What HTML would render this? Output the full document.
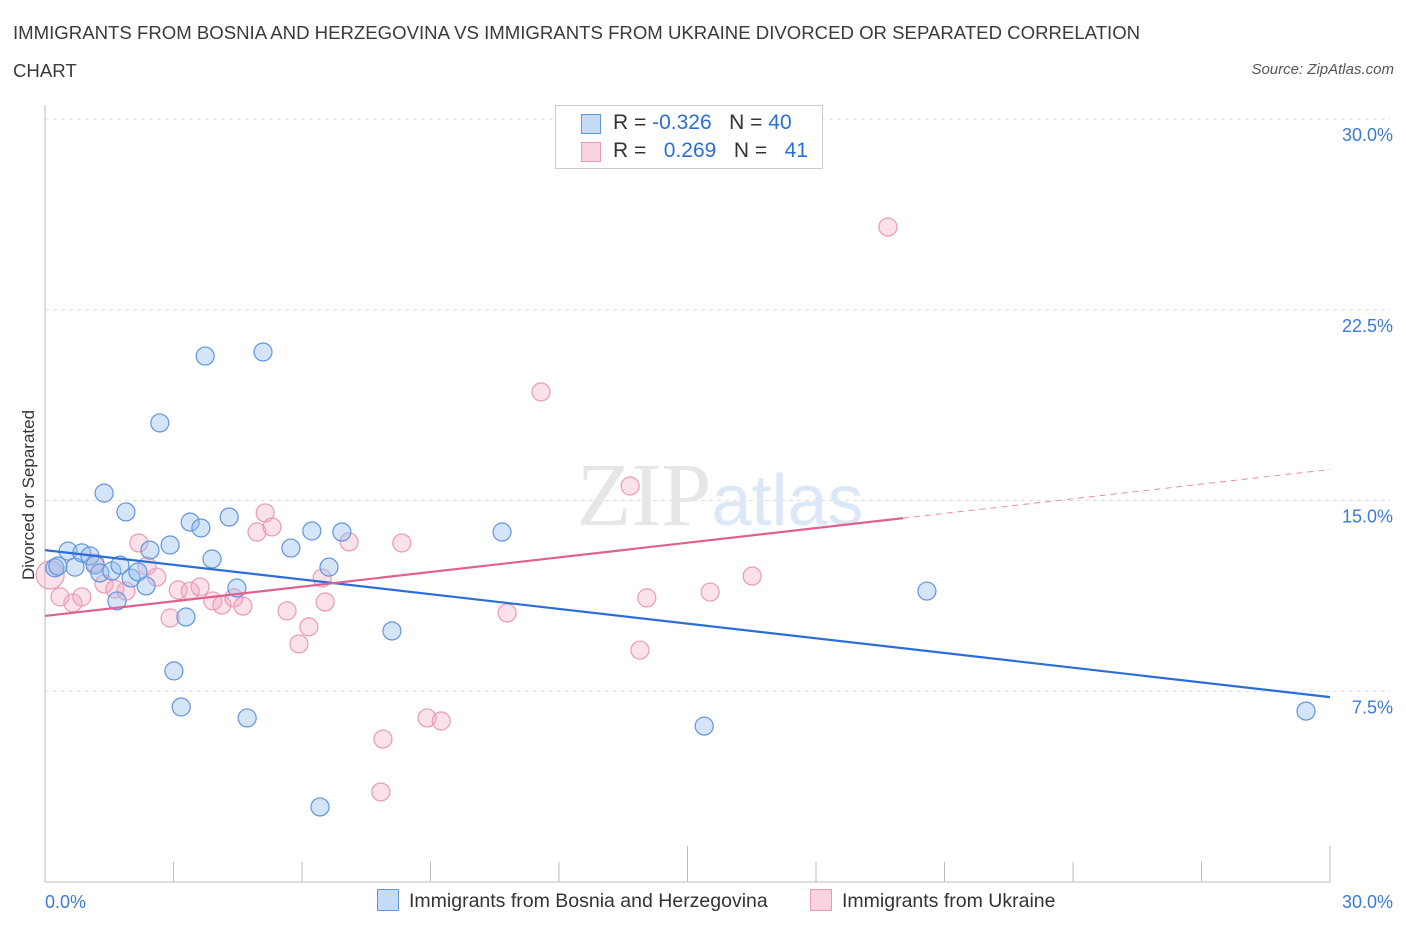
<!DOCTYPE html>
<html><head><meta charset="utf-8"><style>
body{margin:0;background:#fff;font-family:"Liberation Sans",sans-serif;}
#wrap{position:relative;width:1406px;height:930px;overflow:hidden;}
.t{position:absolute;white-space:nowrap;}
</style></head><body>
<div id="wrap">
<div class="t" style="left:13px;top:14px;font-size:18.6px;color:#3a3a3a;line-height:38px;">IMMIGRANTS FROM BOSNIA AND HERZEGOVINA VS IMMIGRANTS FROM UKRAINE DIVORCED OR SEPARATED CORRELATION<br>CHART</div>
<div class="t" style="right:12px;top:61px;font-size:15px;font-style:italic;color:#555;">Source: ZipAtlas.com</div>
<svg id="svg" width="1406" height="930" style="position:absolute;left:0;top:0"></svg>
</div>
<script>
const blueX=[0.23,0.54,0.70,0.86,1.05,1.17,1.28,1.38,1.56,1.68,1.89,2.01,2.17,2.36,2.45,2.68,2.92,3.01,3.18,3.29,3.39,3.64,3.74,3.90,4.30,4.48,4.72,5.09,5.74,6.23,6.42,6.63,6.93,8.10,10.67,15.39,20.59,29.44,0.30,1.75];
const blueY=[12.35,13.01,12.38,12.94,12.82,12.46,12.15,15.29,12.23,11.05,14.55,11.95,12.19,11.64,13.05,18.05,13.25,8.30,6.88,10.42,14.15,13.92,20.68,12.70,14.35,11.56,6.45,20.84,13.13,13.80,2.95,12.38,13.76,9.87,13.76,6.13,11.44,6.72,12.42,12.46];
const pinkX=[0.12,0.35,0.65,0.86,1.17,1.38,1.63,1.89,2.19,2.38,2.61,2.92,3.11,3.39,3.62,3.92,4.13,4.41,4.62,4.95,5.14,5.30,5.65,5.93,6.16,6.47,6.54,7.10,7.84,7.89,8.33,8.92,9.25,10.79,11.58,13.66,13.89,14.05,15.53,16.51,19.68];
const pinkY=[12.07,11.21,10.97,11.21,12.54,11.72,11.52,11.44,13.33,12.42,11.99,10.38,11.48,11.44,11.60,11.05,10.89,11.17,10.85,13.76,14.51,13.96,10.66,9.36,10.03,11.95,11.01,13.37,3.54,5.62,13.33,6.45,6.33,10.58,19.27,15.57,9.12,11.17,11.40,12.03,25.75];
const blueTrend=[13.05,7.27];
const pinkTrend=[10.46,16.22];
const pinkSolidEnd=20.03;
const yTicks=[7.5,15,22.5,30];
const yTickLabels=["7.5%","15.0%","22.5%","30.0%"];
const xTicks=[0,3,6,9,12,15,18,21,24,27,30];

const NS="http://www.w3.org/2000/svg";
const svg=document.getElementById('svg');
const X0=45,X1=1330,Y0=882,Y30=119;
const sx=v=>X0+(v/30)*(X1-X0);
const sy=v=>Y0-(v/30)*(Y0-Y30);
function mk(tag,attrs,parent){const e=document.createElementNS(NS,tag);for(const k in attrs)e.setAttribute(k,attrs[k]);(parent||svg).appendChild(e);return e;}

yTicks.forEach((v,i)=>{
 const g=mk('line',{x1:X0,x2:X1+60,y1:sy(v),y2:sy(v),stroke:'#ddd','stroke-dasharray':'4,4'});
 
 
 const t=mk('text',{x:1393,y:sy(v)+22,'text-anchor':'end','font-size':'18',fill:'#3b7ad9','font-family':'Liberation Sans, sans-serif'});
 t.textContent=yTickLabels[i];
 
 
});
const ax=mk('line',{x1:X0,x2:X0,y1:105,y2:Y0,stroke:'#bbb'});


const axx=mk('line',{x1:X0,x2:X1,y1:Y0,y2:Y0,stroke:'#bbb'});


xTicks.forEach((v,i)=>{
 const big=(i===0||i===5||i===10);
 const tk=mk('line',{x1:sx(v),x2:sx(v),y1:big?846:862,y2:Y0,stroke:'#bbb'});
 
 
});
[['0.0%',45,'start'],['30.0%',1393,'end']].forEach(a=>{
 const t=mk('text',{x:a[1],y:908,'text-anchor':a[2],'font-size':'18',fill:'#3b7ad9','font-family':'Liberation Sans, sans-serif'});
 t.textContent=a[0];
 
 
});
const yt=mk('text',{x:0,y:0,transform:'translate(34,495) rotate(-90)','text-anchor':'middle','font-size':'17',fill:'#333','font-family':'Liberation Sans, sans-serif'});
yt.textContent='Divorced or Separated';


const wm=mk('text',{x:720,y:525,'text-anchor':'middle','font-size':'90',fill:'#e6e6e6','font-family':'Liberation Serif, serif'});
wm.innerHTML='ZIP<tspan fill="#dce8f7" font-family="Liberation Sans, sans-serif" font-size="72">atlas</tspan>';


pinkX.forEach((v,i)=>{
 const c=mk('circle',{cx:sx(v),cy:sy(pinkY[i]),r:i===0?14:9,fill:'rgba(244,170,192,0.35)',stroke:'#eb9ab4','stroke-width':1.2});
 
 
});
blueX.forEach((v,i)=>{
 const c=mk('circle',{cx:sx(v),cy:sy(blueY[i]),r:9,fill:'rgba(147,187,240,0.4)',stroke:'#6095dc','stroke-width':1.2});
 
 
});
const bl=mk('line',{x1:sx(0),y1:sy(blueTrend[0]),x2:sx(30),y2:sy(blueTrend[1]),stroke:'#2a6fd6','stroke-width':2.2});


const pAt=v=>pinkTrend[0]+(pinkTrend[1]-pinkTrend[0])*v/30;
const pl=mk('line',{x1:sx(0),y1:sy(pAt(0)),x2:sx(pinkSolidEnd),y2:sy(pAt(pinkSolidEnd)),stroke:'#e0608e','stroke-width':2.2});


const pd=mk('line',{x1:sx(pinkSolidEnd),y1:sy(pAt(pinkSolidEnd)),x2:sx(30),y2:sy(pAt(30)),stroke:'#e88ba8','stroke-width':1,'stroke-dasharray':'6,5'});


</script>
<div class="t" style="left:555px;top:105px;width:266px;height:62px;border:1px solid #ccc;background:#fff;font-size:21px;color:#333;">
 <div style="position:absolute;left:25px;top:8px;width:18px;height:18px;background:#c5dbf7;border:1px solid #6095dc;"></div>
 <div style="position:absolute;left:57px;top:5px;">R = <span style="color:#2a6fd6">-0.326</span>&nbsp;&nbsp;&nbsp;N = <span style="color:#2a6fd6">40</span></div>
 <div style="position:absolute;left:25px;top:36px;width:18px;height:18px;background:#fbd3df;border:1px solid #eb9ab4;"></div>
 <div style="position:absolute;left:57px;top:33px;">R = &nbsp;&nbsp;<span style="color:#2a6fd6">0.269</span>&nbsp;&nbsp;&nbsp;N = &nbsp;&nbsp;<span style="color:#2a6fd6">41</span></div>
</div>
<div class="t" style="left:377px;top:889px;font-size:19.5px;color:#333;">
 <span style="display:inline-block;width:20px;height:20px;background:#c5dbf7;border:1px solid #6095dc;vertical-align:-4px;margin-right:10px;"></span>Immigrants from Bosnia and Herzegovina</div>
<div class="t" style="left:810px;top:889px;font-size:19.5px;color:#333;">
 <span style="display:inline-block;width:20px;height:20px;background:#fbd3df;border:1px solid #eb9ab4;vertical-align:-4px;margin-right:10px;"></span>Immigrants from Ukraine</div>
</body></html>
